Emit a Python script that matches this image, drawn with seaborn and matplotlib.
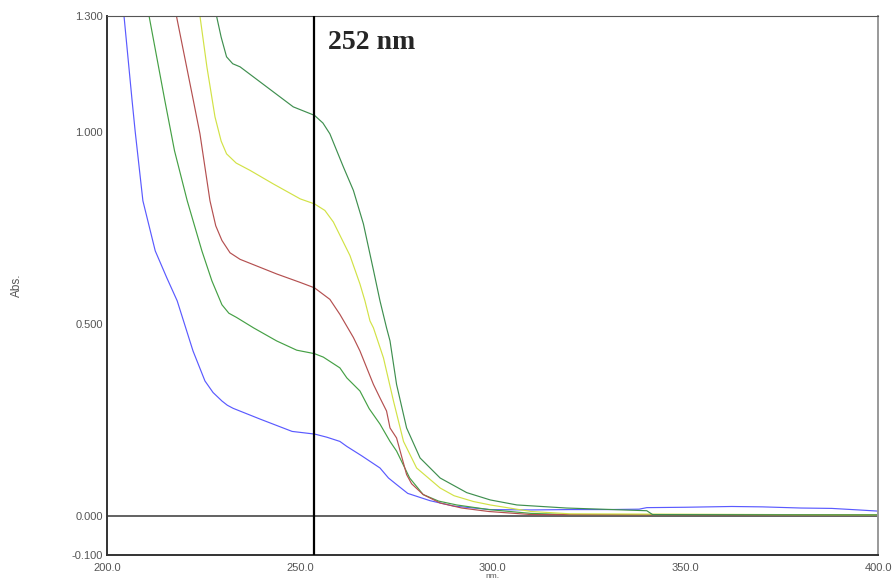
#UV-Vis absorbance spectra with marker line at 252 nm
import numpy as np
import pandas as pd
import seaborn as sns
import matplotlib.pyplot as plt

# %%
# Values (nm, Abs.)
blue_nm = [204.4, 206.5, 207.3, 209.3, 212.5, 215.5, 218.2, 222.3, 225.4, 227.5, 229.8, 231.2,
           232.7, 239.7, 248.0, 253.9, 257.0, 260.4, 262.2, 266.0, 269.0, 270.8, 273.0, 275.1,
           278.0, 283.8, 290.0, 299.4, 310.0, 320.0, 330.0, 338.0, 340.0, 350.0, 362.0, 370.0,
           380.0, 388.0, 395.0, 400.0]
blue_abs = [1.30, 1.08, 1.00, 0.82, 0.69, 0.62, 0.56, 0.43, 0.352, 0.322, 0.30, 0.289,
            0.281, 0.253, 0.221, 0.214, 0.206, 0.195, 0.182, 0.158, 0.138, 0.126, 0.10, 0.083,
            0.06, 0.041, 0.027, 0.018, 0.017, 0.018, 0.018, 0.019, 0.023, 0.024, 0.026, 0.025,
            0.022, 0.021, 0.017, 0.014]

green_nm = [210.9, 215.0, 217.5, 220.8, 224.6, 227.2, 229.8, 231.6, 233.6, 238.0, 244.0, 249.2,
            253.8, 256.1, 260.4, 262.2, 265.6, 268.0, 270.8, 273.4, 275.1, 278.5, 282.0, 286.0,
            290.7, 299.0, 310.0, 320.0, 400.0]
green_abs = [1.30, 1.08, 0.95, 0.82, 0.69, 0.612, 0.55, 0.528, 0.517, 0.49, 0.456, 0.432,
             0.423, 0.414, 0.386, 0.36, 0.326, 0.28, 0.24, 0.195, 0.17, 0.10, 0.057, 0.040,
             0.03, 0.018, 0.008, 0.005, 0.004]

red_nm = [218.0, 222.4, 224.1, 226.7, 228.2, 229.8, 231.9, 234.5, 239.0, 244.0, 250.1, 253.8,
          257.8, 260.4, 263.9, 265.6, 269.1, 270.8, 272.5, 273.4, 275.1, 277.7, 279.0, 282.0,
          286.4, 292.0, 299.0, 310.0, 400.0]
red_abs = [1.30, 1.08, 0.994, 0.82, 0.755, 0.717, 0.685, 0.668, 0.650, 0.630, 0.608, 0.594,
           0.564, 0.525, 0.465, 0.43, 0.343, 0.308, 0.274, 0.23, 0.204, 0.109, 0.085, 0.057,
           0.035, 0.022, 0.013, 0.005, 0.003]

yellow_nm = [224.1, 225.9, 228.0, 229.6, 231.0, 233.5, 237.1, 243.1, 250.1, 253.8, 256.5, 258.7,
             263.0, 265.6, 266.9, 268.2, 269.1, 271.7, 274.3, 276.9, 280.3, 286.4, 290.0, 295.0,
             299.4, 310.0, 320.0, 400.0]
yellow_abs = [1.30, 1.168, 1.038, 0.975, 0.942, 0.918, 0.899, 0.864, 0.825, 0.812, 0.795, 0.765,
              0.678, 0.604, 0.56, 0.508, 0.49, 0.412, 0.30, 0.195, 0.126, 0.074, 0.054, 0.039,
              0.030, 0.013, 0.007, 0.004]

dkgreen_nm = [228.4, 229.6, 231.0, 232.6, 234.5, 241.4, 248.3, 253.8, 256.0, 257.8, 261.3, 263.9,
              266.5, 269.1, 270.8, 272.5, 273.4, 275.1, 277.7, 281.2, 286.4, 293.3, 299.4, 306.3,
              319.2, 340.0, 341.5, 400.0]
dkgreen_abs = [1.30, 1.245, 1.194, 1.176, 1.168, 1.116, 1.064, 1.042, 1.022, 0.994, 0.908, 0.847,
               0.76, 0.64, 0.56, 0.49, 0.456, 0.343, 0.23, 0.152, 0.10, 0.062, 0.043, 0.03,
               0.022, 0.015, 0.005, 0.004]

series = {'s1': (blue_nm, blue_abs), 's2': (green_nm, green_abs), 's3': (red_nm, red_abs),
          's4': (yellow_nm, yellow_abs), 's5': (dkgreen_nm, dkgreen_abs)}
colors = {'s1': '#5a5aff', 's2': '#45a045', 's3': '#b45050', 's4': '#d2e246', 's5': '#3f8f4f'}

marker_nm = 253.7
label_text = '252 nm'
yticks = [-0.1, 0.0, 0.5, 1.0, 1.3]
xticks = [200, 250, 300, 350, 400]

# %%
# Long-form table for seaborn
frames = []
for name, (nm, ab) in series.items():
    frames.append(pd.DataFrame({'nm': nm, 'abs': ab, 'sample': name}))
data = pd.concat(frames, ignore_index=True)

sns.set_style('white')
plt.rcParams['font.family'] = ['Liberation Sans', 'DejaVu Sans']

fig = plt.figure(figsize=(8.95, 5.82), dpi=100)
ax = fig.add_axes([0.1196, 0.0464, 0.8615, 0.9261])

sns.lineplot(data=data, x='nm', y='abs', hue='sample', palette=colors, sort=False,
             estimator=None, legend=False, linewidth=0.85, ax=ax)

ax.axhline(0, color='#555555', linewidth=1.3, zorder=1)
ax.axvline(marker_nm, color='black', linewidth=1.6, zorder=3)
ax.text(257.2, 1.232, label_text, fontsize=20, fontweight='bold',
        family='Liberation Serif', ha='left', va='center')

ax.set(xlim=[200, 400], ylim=[-0.1, 1.3])
ax.set_xticks(xticks)
ax.set_xticklabels([f'{v:.1f}' for v in xticks])
ax.set_yticks(yticks)
ax.set_yticklabels([f'{v:.3f}' for v in yticks])
ax.tick_params(axis='both', direction='in', length=5.5, width=1, color='#555555',
               labelsize=8, labelcolor='#555555')
ax.tick_params(axis='x', pad=6)
ax.tick_params(axis='y', pad=3)

ax.set_xlabel('nm.', fontsize=6, color='#555555', va='top')
ax.xaxis.set_label_coords(0.5, -0.0335)
ax.set_ylabel('Abs.', fontsize=8.5, color='#555555')
ax.yaxis.set_label_coords(-0.109, 0.5)

for side in ['left', 'bottom']:
    ax.spines[side].set_color('#333333')
    ax.spines[side].set_linewidth(1.4)
ax.spines['top'].set_color('#555555')
ax.spines['top'].set_linewidth(0.8)
ax.spines['right'].set_color('#999999')
ax.spines['right'].set_linewidth(1.4)

fig.savefig('out.png', dpi=100)
